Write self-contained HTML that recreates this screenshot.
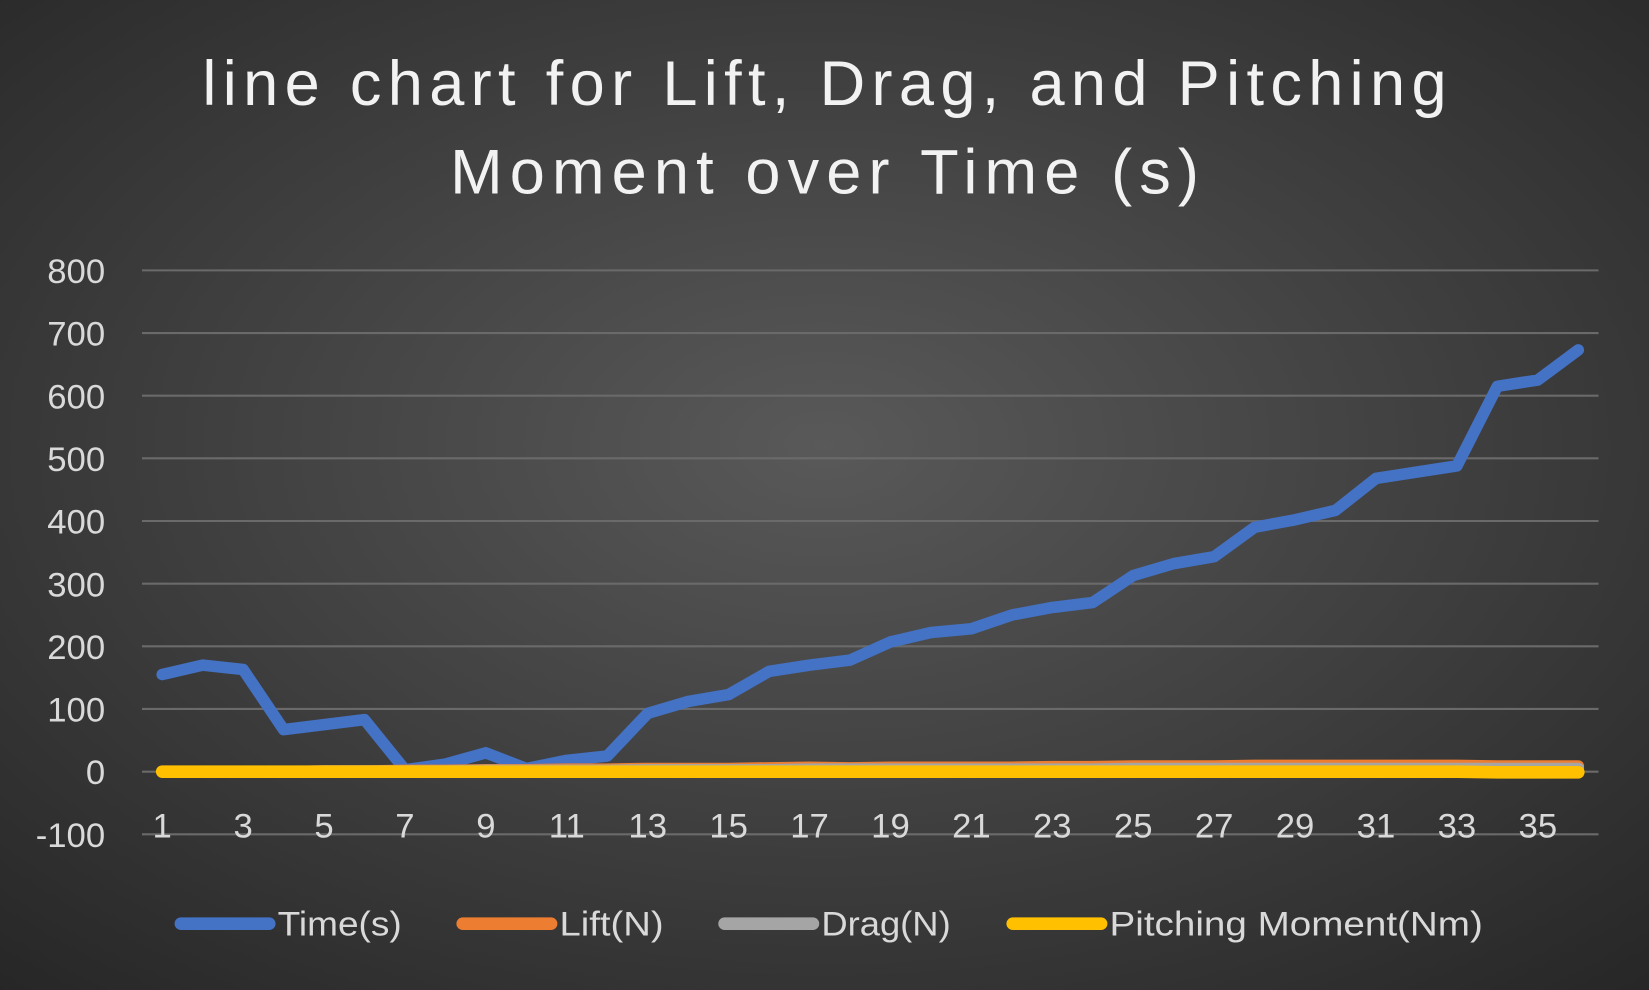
<!DOCTYPE html>
<html><head><meta charset="utf-8"><style>
html,body{margin:0;padding:0;background:#333;}
svg{display:block;font-family:"Liberation Sans",sans-serif;}
</style></head><body>
<svg id="chart" width="1649" height="990" viewBox="0 0 1568 941" preserveAspectRatio="none" xmlns="http://www.w3.org/2000/svg">
<defs>
<radialGradient id="bg" cx="0.5" cy="0.45" r="0.75">
<stop offset="0" stop-color="#595959"/><stop offset="1" stop-color="#262626"/>
</radialGradient>
</defs>
<rect x="0" y="0" width="1568" height="941" fill="url(#bg)"/>
<g fill="#f2f2f2" font-size="60" text-anchor="middle">
<text x="784" y="100" textLength="1183" lengthAdjust="spacing">line chart for Lift, Drag, and Pitching</text>
<text x="784" y="184" textLength="712" lengthAdjust="spacing">Moment over Time (s)</text>
</g>
<g id="grid"></g>
<g id="yticks" fill="#d9d9d9" font-size="33" text-anchor="end"></g>
<g id="xticks" fill="#d9d9d9" font-size="33" text-anchor="middle"></g>
<g id="series"></g>
<g font-size="33" fill="#d9d9d9">
<g><line x1="172" y1="878" x2="256" y2="878" stroke="#4472c4" stroke-width="12" stroke-linecap="round"/><text x="264" y="889" textLength="118" lengthAdjust="spacingAndGlyphs">Time(s)</text></g>
<g><line x1="440" y1="878" x2="524" y2="878" stroke="#ed7d31" stroke-width="12" stroke-linecap="round"/><text x="532" y="889" textLength="99" lengthAdjust="spacingAndGlyphs">Lift(N)</text></g>
<g><line x1="689" y1="878" x2="773" y2="878" stroke="#a5a5a5" stroke-width="12" stroke-linecap="round"/><text x="781" y="889" textLength="123" lengthAdjust="spacingAndGlyphs">Drag(N)</text></g>
<g><line x1="963" y1="878" x2="1047" y2="878" stroke="#ffc000" stroke-width="12" stroke-linecap="round"/><text x="1055" y="889" textLength="355" lengthAdjust="spacingAndGlyphs">Pitching Moment(Nm)</text></g>
</g>
</svg>
<script>
const categories = Array.from({length:36},(_,i)=>String(i+1));
const timeValues = [155,170,163,67,75,83,3,12,30,5,18,25,93,112,123,160,170,178,207,222,228,250,262,270,313,332,343,390,402,417,468,478,488,615,625,673];
const liftValues = [0,0,0,0,1,1,2,2,3,3,4,4,5,5,5,6,7,6,7,7,7,7,8,8,9,9,9,10,10,10,10,10,10,9,9,9];
const dragValues = [0,0,0,0,1,1,1,1,2,2,2,2,3,3,3,3,4,4,4,4,4,4,4,4,5,5,5,5,5,5,5,5,5,5,5,5];
const pitchValues = [0,0,0,0,0,0,0,0,0,0,0,0,0,0,0,0,0,0,0,0,0,0,0,0,0,0,0,0,0,0,0,0,0,-1,-1,-1];
const yTicks = [-100,0,100,200,300,400,500,600,700,800];
const xLabels = categories.filter((c,i)=>i%2===0);

const NS="http://www.w3.org/2000/svg";
const plotLeft=135,plotRight=1520,plotTop=257,plotBottom=793,yMin=-100,yMax=800;
const step=(plotRight-plotLeft)/categories.length;
const xs=i=>plotLeft+step*(i+0.5);
const ys=v=>plotBottom-(v-yMin)/(yMax-yMin)*(plotBottom-plotTop);

const grid=document.getElementById('grid'),yt=document.getElementById('yticks'),xt=document.getElementById('xticks'),ser=document.getElementById('series');
yTicks.forEach(t=>{
  const l=document.createElementNS(NS,'line');
  
  
  l.setAttribute('x1',plotLeft);l.setAttribute('x2',plotRight);l.setAttribute('y1',ys(t));l.setAttribute('y2',ys(t));
  l.setAttribute('stroke','#6a6a6a');l.setAttribute('stroke-width','2');
  grid.appendChild(l);
  const tx=document.createElementNS(NS,'text');
  
  
  tx.setAttribute('x',100);tx.setAttribute('y',ys(t)+12);tx.textContent=t;
  yt.appendChild(tx);
});
categories.forEach((c,i)=>{
  if(!xLabels.includes(c))return;
  const tx=document.createElementNS(NS,'text');
  
  
  tx.setAttribute('x',xs(i));tx.setAttribute('y',796);tx.textContent=c;
  xt.appendChild(tx);
});
function drawSeries(vals,color,name,w){
  const p=document.createElementNS(NS,'polyline');
  
  
  p.setAttribute('points',vals.map((v,i)=>xs(i)+','+ys(v)).join(' '));
  p.setAttribute('fill','none');p.setAttribute('stroke',color);p.setAttribute('stroke-width',w);
  p.setAttribute('stroke-linejoin','round');p.setAttribute('stroke-linecap','round');
  ser.appendChild(p);
}
drawSeries(timeValues,'#4472c4','time-line',11);
drawSeries(liftValues,'#ed7d31','lift-line',11);
drawSeries(dragValues,'#a5a5a5','drag-line',11);
drawSeries(pitchValues,'#ffc000','pitching-moment-line',12);
</script>
</body></html>
